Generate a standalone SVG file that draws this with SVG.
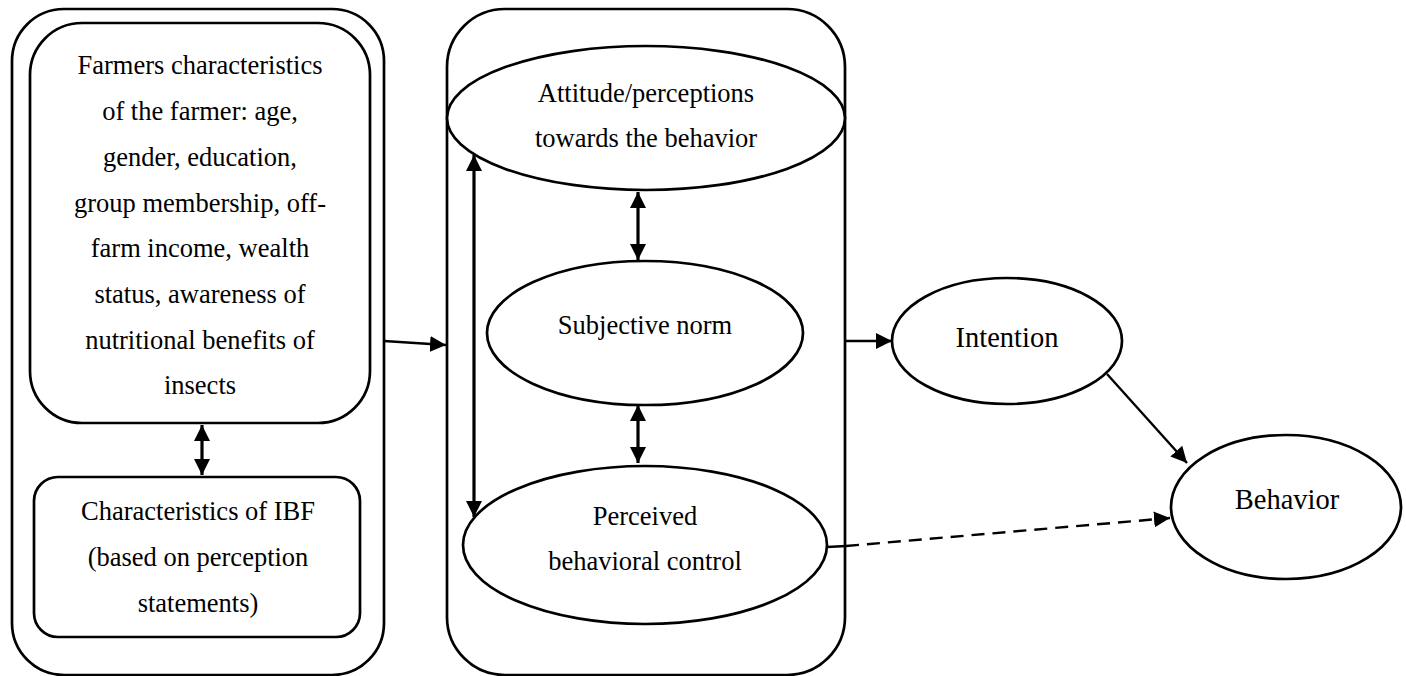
<svg xmlns="http://www.w3.org/2000/svg" width="1406" height="676" viewBox="0 0 1406 676">
<defs>
<style>
.box{fill:none;stroke:#000;stroke-width:2.7}
.el{fill:#fff;stroke:#000;stroke-width:2.7}
.t{font-family:"Liberation Serif","Times New Roman",serif;font-size:26.5px;fill:#000;text-anchor:middle}
.tb{font-family:"Liberation Serif","Times New Roman",serif;font-size:28.5px;fill:#000;text-anchor:middle}
.ln{fill:none;stroke:#000;stroke-width:2.4}
.dbl{fill:none;stroke:#000;stroke-width:3.2}
</style>
<marker id="ah" markerUnits="userSpaceOnUse" viewBox="0 0 16 16" refX="16" refY="8" markerWidth="16" markerHeight="16" orient="auto-start-reverse">
<path d="M0,0 L16,8 L0,16 z" fill="#000"/>
</marker>
</defs>
<rect width="1406" height="676" fill="#fff"/>

<g id="left-group">
<rect class="box" x="12" y="9" width="372" height="666" rx="52" ry="52"/>
</g>
<g id="farmers">
<rect class="box" x="30" y="23" width="340" height="400" rx="52" ry="52"/>
<text class="t" x="200" y="74">Farmers characteristics</text>
<text class="t" x="200" y="120">of the farmer: age,</text>
<text class="t" x="200" y="166">gender, education,</text>
<text class="t" x="200" y="212">group membership, off-</text>
<text class="t" x="200" y="257">farm income, wealth</text>
<text class="t" x="200" y="303">status, awareness of</text>
<text class="t" x="200" y="349">nutritional benefits of</text>
<text class="t" x="200" y="394">insects</text>
</g>
<g id="ibf">
<rect class="box" x="34" y="477" width="326" height="160" rx="24" ry="24"/>
<text class="t" x="198" y="520">Characteristics of IBF</text>
<text class="t" x="198" y="566">(based on perception</text>
<text class="t" x="198" y="612">statements)</text>
</g>

<g id="tpb-group">
<rect class="box" x="447" y="9" width="398" height="666" rx="58" ry="58"/>
</g>
<g id="attitude">
<ellipse class="el" cx="646" cy="118" rx="199" ry="72"/>
<text class="t" x="646" y="102">Attitude/perceptions</text>
<text class="t" x="646" y="147">towards the behavior</text>
</g>
<g id="subjective">
<ellipse class="el" cx="645" cy="333" rx="158" ry="72"/>
<text class="t" x="645" y="334">Subjective norm</text>
</g>
<g id="pbc">
<ellipse class="el" cx="645" cy="545" rx="182" ry="79"/>
<text class="t" x="645" y="525">Perceived</text>
<text class="t" x="645" y="570">behavioral control</text>
</g>
<g id="intention">
<ellipse class="el" cx="1007" cy="341" rx="115" ry="63"/>
<text class="tb" x="1007" y="347">Intention</text>
</g>
<g id="behavior">
<ellipse class="el" cx="1286" cy="507" rx="115" ry="72"/>
<text class="tb" x="1287" y="509">Behavior</text>
</g>

<g id="connectors">
<line class="dbl" x1="202" y1="425" x2="202" y2="475" marker-start="url(#ah)" marker-end="url(#ah)"/>
<line class="dbl" x1="638" y1="192" x2="638" y2="260" marker-start="url(#ah)" marker-end="url(#ah)"/>
<line class="dbl" x1="638" y1="405" x2="638" y2="463" marker-start="url(#ah)" marker-end="url(#ah)"/>
<line class="dbl" x1="474" y1="155" x2="474" y2="517" marker-start="url(#ah)" marker-end="url(#ah)"/>
<line class="ln" x1="384" y1="341" x2="446" y2="345" marker-end="url(#ah)"/>
<line class="ln" x1="846" y1="341" x2="892" y2="341" marker-end="url(#ah)"/>
<line class="ln" x1="1107" y1="374" x2="1187" y2="463" marker-end="url(#ah)"/>
<line class="ln" x1="827" y1="547" x2="846" y2="546"/>
<line class="ln" x1="846" y1="546" x2="1170" y2="518" stroke-dasharray="13 8" marker-end="url(#ah)"/>
</g>
</svg>
